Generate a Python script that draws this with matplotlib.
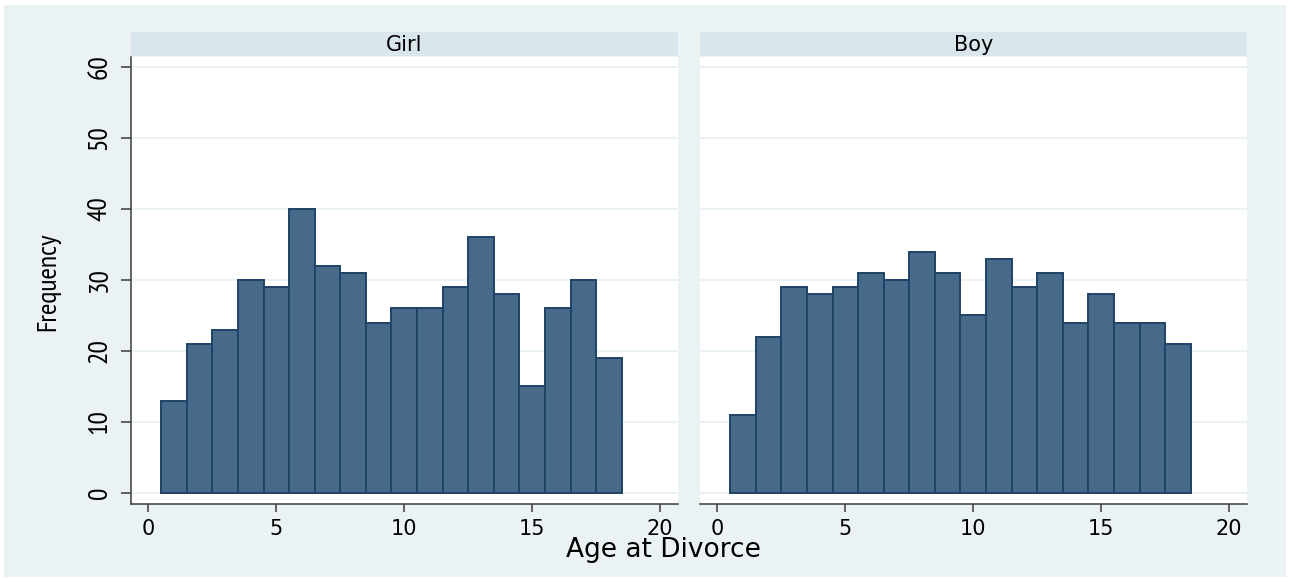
import logging
import matplotlib
matplotlib.use("Agg")
import matplotlib.pyplot as plt
from matplotlib.patches import Rectangle

logging.getLogger("matplotlib.font_manager").setLevel(logging.ERROR)

# Frequency of age at parental divorce, by child's sex (one bar per year of age)
ages = list(range(1, 19))
girl_counts = [13, 21, 23, 30, 29, 40, 32, 31, 24, 26, 26, 29, 36, 28, 15, 26, 30, 19]
boy_counts = [11, 22, 29, 28, 29, 31, 30, 34, 31, 25, 33, 29, 31, 24, 28, 24, 24, 21]
panel_titles = ["Girl", "Boy"]
x_ticks = [0, 5, 10, 15, 20]
y_ticks = [0, 10, 20, 30, 40, 50, 60]

W, H = 1291, 578
BG = "#EAF2F3"
STRIP = "#D9E6EC"
BAR_FILL = "#476A8B"
BAR_EDGE = "#1E4366"
AXIS = "#3A3A3A"
WIDE = "DejaVu Sans"
NARROW = ["Liberation Sans Narrow", "PT Sans Narrow", "Liberation Sans"]

fig = plt.figure(figsize=(W / 100, H / 100), dpi=100)
fig.patch.set_facecolor("white")
fig.patches.append(Rectangle((4 / W, 1 - 577 / H), 1282 / W, 572 / H,
                             transform=fig.transFigure, facecolor=BG,
                             edgecolor="none", zorder=-10))


def fbox(x0, y0, x1, y1):
    """Pixel box (top-left origin) -> figure-fraction [left, bottom, width, height]."""
    return [x0 / W, 1 - y1 / H, (x1 - x0) / W, (y1 - y0) / H]


panels = [(131, 678, girl_counts), (700, 1247, boy_counts)]
for i, ((x0, x1, counts), title) in enumerate(zip(panels, panel_titles)):
    ax = fig.add_axes(fbox(x0, 57, x1, 504))
    ax.set_facecolor("white")
    ax.bar(ages, counts, width=1.0, align="center", color=BAR_FILL,
           edgecolor=BAR_EDGE, linewidth=1.4, zorder=3)
    ax.set_xlim(-0.68, 20.7)
    ax.set_ylim(-1.55, 61.4)
    ax.set_xticks(x_ticks)
    ax.set_yticks(y_ticks)
    ax.grid(axis="y", color=BG, linewidth=1.5, zorder=0)
    ax.grid(axis="x", visible=False)
    for side in ("top", "right"):
        ax.spines[side].set_visible(False)
    ax.spines["bottom"].set_color(AXIS)
    ax.spines["bottom"].set_linewidth(1.1)
    ax.tick_params(axis="x", direction="out", length=5.5, width=1.1,
                   color=AXIS, pad=5, labelsize=15, labelcolor="black")
    for lab in ax.get_xticklabels():
        lab.set_family(WIDE)
    if i == 0:
        ax.spines["left"].set_color(AXIS)
        ax.spines["left"].set_linewidth(1.1)
        ax.tick_params(axis="y", direction="out", length=7, width=1.1,
                       color=AXIS, pad=7, labelsize=20, labelcolor="black")
        for lab in ax.get_yticklabels():
            lab.set_family(NARROW)
            lab.set_rotation(90)
            lab.set_va("center")
        ax.set_ylabel("Frequency", family=NARROW, fontsize=20, va="center")
        ax.yaxis.set_label_coords(-0.152, 0.497)
    else:
        ax.spines["left"].set_visible(False)
        ax.tick_params(axis="y", left=False, labelleft=False)

    # facet strip above the plot region
    sx = fig.add_axes(fbox(x0, 32, x1, 56))
    sx.set_facecolor(STRIP)
    sx.set_xticks([])
    sx.set_yticks([])
    for sp in sx.spines.values():
        sp.set_visible(False)
    sx.text(0.5, 0.45, title, transform=sx.transAxes, ha="center",
            va="center", family=WIDE, fontsize=15)

fig.text(663 / W, 1 - 550 / H, "Age at Divorce", ha="center", va="center",
         family=WIDE, fontsize=19)

fig.savefig("out.png", dpi=100, facecolor=fig.get_facecolor())
